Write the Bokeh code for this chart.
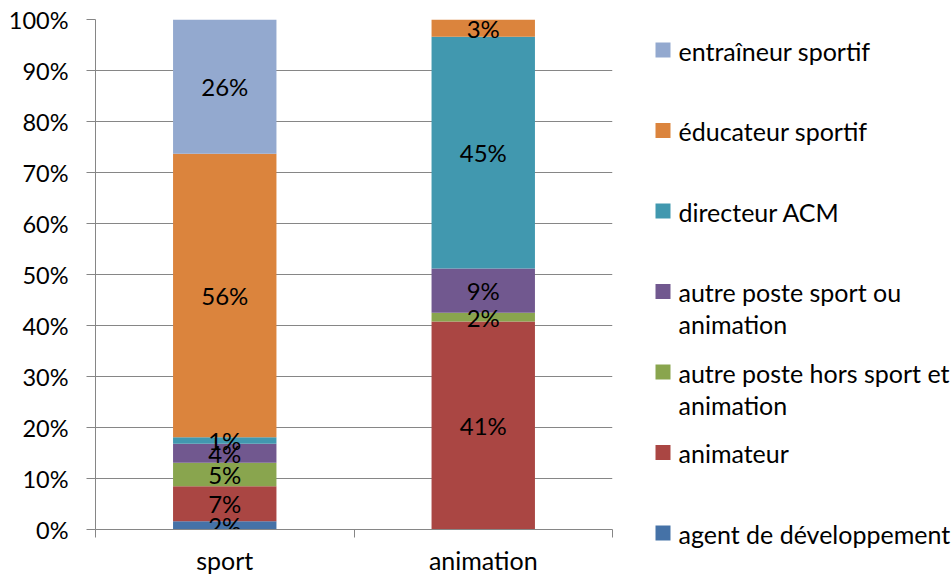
from bokeh.plotting import figure
from bokeh.models import ColumnDataSource, FixedTicker, PrintfTickFormatter, Range1d
from bokeh.core.properties import value
from bokeh.embed import file_html
from bokeh.resources import INLINE

categories = ["sport", "animation"]
series = ["agent de développement", "animateur", "autre poste hors sport et animation",
          "autre poste sport ou animation", "directeur ACM", "éducateur sportif", "entraîneur sportif"]
legend_labels = ["agent de développement", "animateur", "autre poste hors sport et\nanimation",
                 "autre poste sport ou\nanimation", "directeur ACM", "éducateur sportif", "entraîneur sportif"]
agent = [1.6, 0.0]
animateur = [6.9, 40.8]
hors = [4.6, 1.7]
autre = [3.7, 8.7]
directeur = [1.3, 45.4]
educateur = [55.6, 3.4]
entraineur = [26.3, 0.0]
values = [agent, animateur, hors, autre, directeur, educateur, entraineur]
colors = ["#4572A7", "#AA4643", "#89A54E", "#71588F", "#4198AF", "#DB843D", "#93A9CF"]
y_ticks = [0, 10, 20, 30, 40, 50, 60, 70, 80, 90, 100]

FONT = "Lato"
FS = "25px"
FS_TICK = "23.5px"
FS_VAL = "24px"
GRID = "#868686"

W, H = 952, 578
LEFT, TOP = 95, 19
FRAME_W, FRAME_H = 517, 510
xs = [i + 0.5 for i in range(len(categories))]

p = figure(width=W, height=H, x_range=Range1d(0, len(categories)), y_range=Range1d(0, 100),
           output_backend="svg", toolbar_location=None,
           min_border_left=LEFT, min_border_right=W - LEFT - FRAME_W, min_border_top=TOP,
           min_border_bottom=H - TOP - FRAME_H)
p.outline_line_color = None
p.extra_x_ranges = {"px": Range1d(0, FRAME_W)}
p.extra_y_ranges = {"py": Range1d(FRAME_H, 0)}

data = {"x": xs}
for name, vals in zip(series, values):
    data[name] = vals
src = ColumnDataSource(data)
p.vbar_stack(series, x="x", width=0.4, source=src, color=colors, line_color=None)

# value labels
lx, ly, lt = [], [], []
for ci, x in enumerate(xs):
    base = 0.0
    for vals in values:
        v = vals[ci]
        if v > 0:
            lx.append(x)
            ly.append(base + v / 2)
            lt.append(f"{round(v)}%")
        base += v
p.text(x=lx, y=ly, text=lt, text_align="center", text_baseline="middle",
       text_font=value(FONT), text_font_size=FS_VAL, text_color="black")

# y axis
p.yaxis.ticker = FixedTicker(ticks=y_ticks, minor_ticks=[])
p.yaxis.formatter = PrintfTickFormatter(format="%d%%")
p.yaxis.major_tick_out = 9
p.yaxis.major_tick_in = 0
p.yaxis.minor_tick_out = 0
p.yaxis.major_tick_line_color = GRID
p.yaxis.axis_line_color = GRID
p.yaxis.major_label_standoff = 18
p.yaxis.major_label_text_font = FONT
p.yaxis.major_label_text_font_size = FS_TICK
p.yaxis.major_label_text_color = "black"

# x axis: labels at category centres, tick marks at category boundaries
p.xaxis.ticker = FixedTicker(ticks=xs, minor_ticks=list(range(len(categories) + 1)))
p.xaxis.major_label_overrides = {x: c for x, c in zip(xs, categories)}
p.xaxis.major_tick_out = 0
p.xaxis.major_tick_in = 0
p.xaxis.minor_tick_out = 8
p.xaxis.minor_tick_in = 0
p.xaxis.minor_tick_line_color = GRID
p.xaxis.axis_line_color = GRID
p.xaxis.major_label_standoff = 7
p.xaxis.major_label_text_font = FONT
p.xaxis.major_label_text_font_size = FS
p.xaxis.major_label_text_color = "black"

p.xgrid.visible = False
p.ygrid.ticker = FixedTicker(ticks=y_ticks)
p.ygrid.grid_line_color = GRID

# legend (right of the plot area)
n = len(series)
centers = [30.5 + 80.5 * i for i in range(n)]
lcolors = colors[::-1]
llabels = legend_labels[::-1]
r1 = p.rect(x=[567.5] * n, y=centers, width=15, height=15, color=lcolors, line_color=None,
            x_range_name="px", y_range_name="py", width_units="screen", height_units="screen")
r2 = p.text(x=[583] * n, y=[c - 14.5 for c in centers], text=llabels, text_align="left",
            text_baseline="top", text_font=value(FONT), text_font_size=FS, text_color="black",
            text_line_height=1.08, x_range_name="px", y_range_name="py")
r1.level = "overlay"
r2.level = "overlay"

open("out.html", "w").write(file_html(p, INLINE))
